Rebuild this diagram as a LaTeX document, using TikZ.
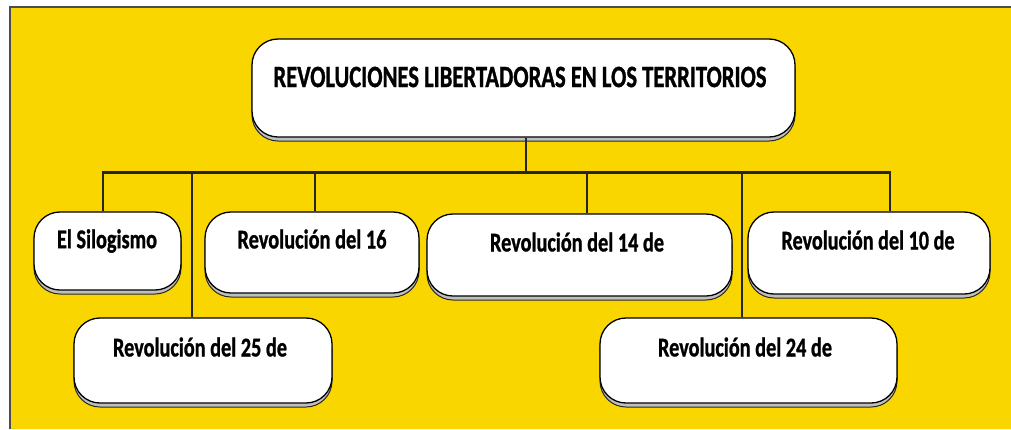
\documentclass[tikz,border=0pt]{standalone}
\usepackage{fontspec}
\setmainfont{Carlito}[BoldFeatures={FakeBold=1.2}]
\usepackage{graphicx}
\usetikzlibrary{shadows}
\definecolor{bgyellow}{RGB}{250,214,0}
\tikzset{
  rbox/.style={draw=black, line width=1.3pt, fill=white, rounded corners=26pt, inner sep=0pt,
    drop shadow={shadow xshift=0pt, shadow yshift=-4pt, fill=black!25, draw=black!85, line width=1pt, opacity=1}},
  bus/.style={line width=3pt, black!85},
  drop/.style={line width=2.2pt, black!85},
  lbl/.style={inner sep=0pt, anchor=center, font=\bfseries\fontsize{27}{30}\selectfont},
  tlbl/.style={inner sep=0pt, anchor=center, font=\bfseries\fontsize{31}{34}\selectfont}
}
\newcommand{\fitw}[2]{\resizebox{#1pt}{\height}{#2}}
\begin{document}
\begin{tikzpicture}[x=1pt,y=-1pt]
\useasboundingbox (0,0) rectangle (1011,429);
\fill[white] (0,0) rectangle (1011,429);
\fill[bgyellow] (10,7) rectangle (1011,429);
\draw[black!70, line width=1.2pt] (10,429) -- (10,7) -- (1011,7);

% boxes
\node[rbox, minimum width=543pt, minimum height=98pt] (top) at (523.5,88) {};
\node[rbox, minimum width=147pt, minimum height=78pt] (sil) at (107.5,251) {};
\node[rbox, minimum width=214pt, minimum height=81pt] (r16) at (312,252.5) {};
\node[rbox, minimum width=305pt, minimum height=82pt] (r14) at (579.5,255) {};
\node[rbox, minimum width=242pt, minimum height=82pt] (r10) at (869,253) {};
\node[rbox, minimum width=258pt, minimum height=85pt] (r25) at (203,360.5) {};
\node[rbox, minimum width=297pt, minimum height=85pt] (r24) at (748.5,360.5) {};

% texts
\node[tlbl] (topT) at (520,77) {\fitw{493}{REVOLUCIONES LIBERTADORAS EN LOS TERRITORIOS}};
\node[lbl] (silT) at (107,241) {\fitw{100}{El Silogismo}};
\node[lbl] (r16T) at (312,239) {\fitw{149}{Revolución del 16}};
\node[lbl] (r14T) at (577,242) {\fitw{174}{Revolución del 14 de}};
\node[lbl] (r10T) at (868,240) {\fitw{173}{Revolución del 10 de}};
\node[lbl] (r25T) at (200,347) {\fitw{174}{Revolución del 25 de}};
\node[lbl] (r24T) at (745,347) {\fitw{174}{Revolución del 24 de}};

% connectors
\coordinate (bl) at (103,172);
\coordinate (br) at (890,172);
\coordinate (bm) at (526,172);
\coordinate (b25) at (192,172);
\coordinate (b16) at (315,172);
\coordinate (b14) at (587,172);
\coordinate (b24) at (742,172);
\draw[drop] (top.south -| bm) -- (bm);
\draw[bus] ([xshift=-1.1pt]bl) -- ([xshift=1.1pt]br);
\draw[drop] (bl) -- (bl |- sil.north);
\draw[drop] (b25) -- (b25 |- r25.north);
\draw[drop] (b16) -- (b16 |- r16.north);
\draw[drop] (b14) -- (b14 |- r14.north);
\draw[drop] (b24) -- (b24 |- r24.north);
\draw[drop] (br) -- (br |- r10.north);
\end{tikzpicture}
\end{document}
